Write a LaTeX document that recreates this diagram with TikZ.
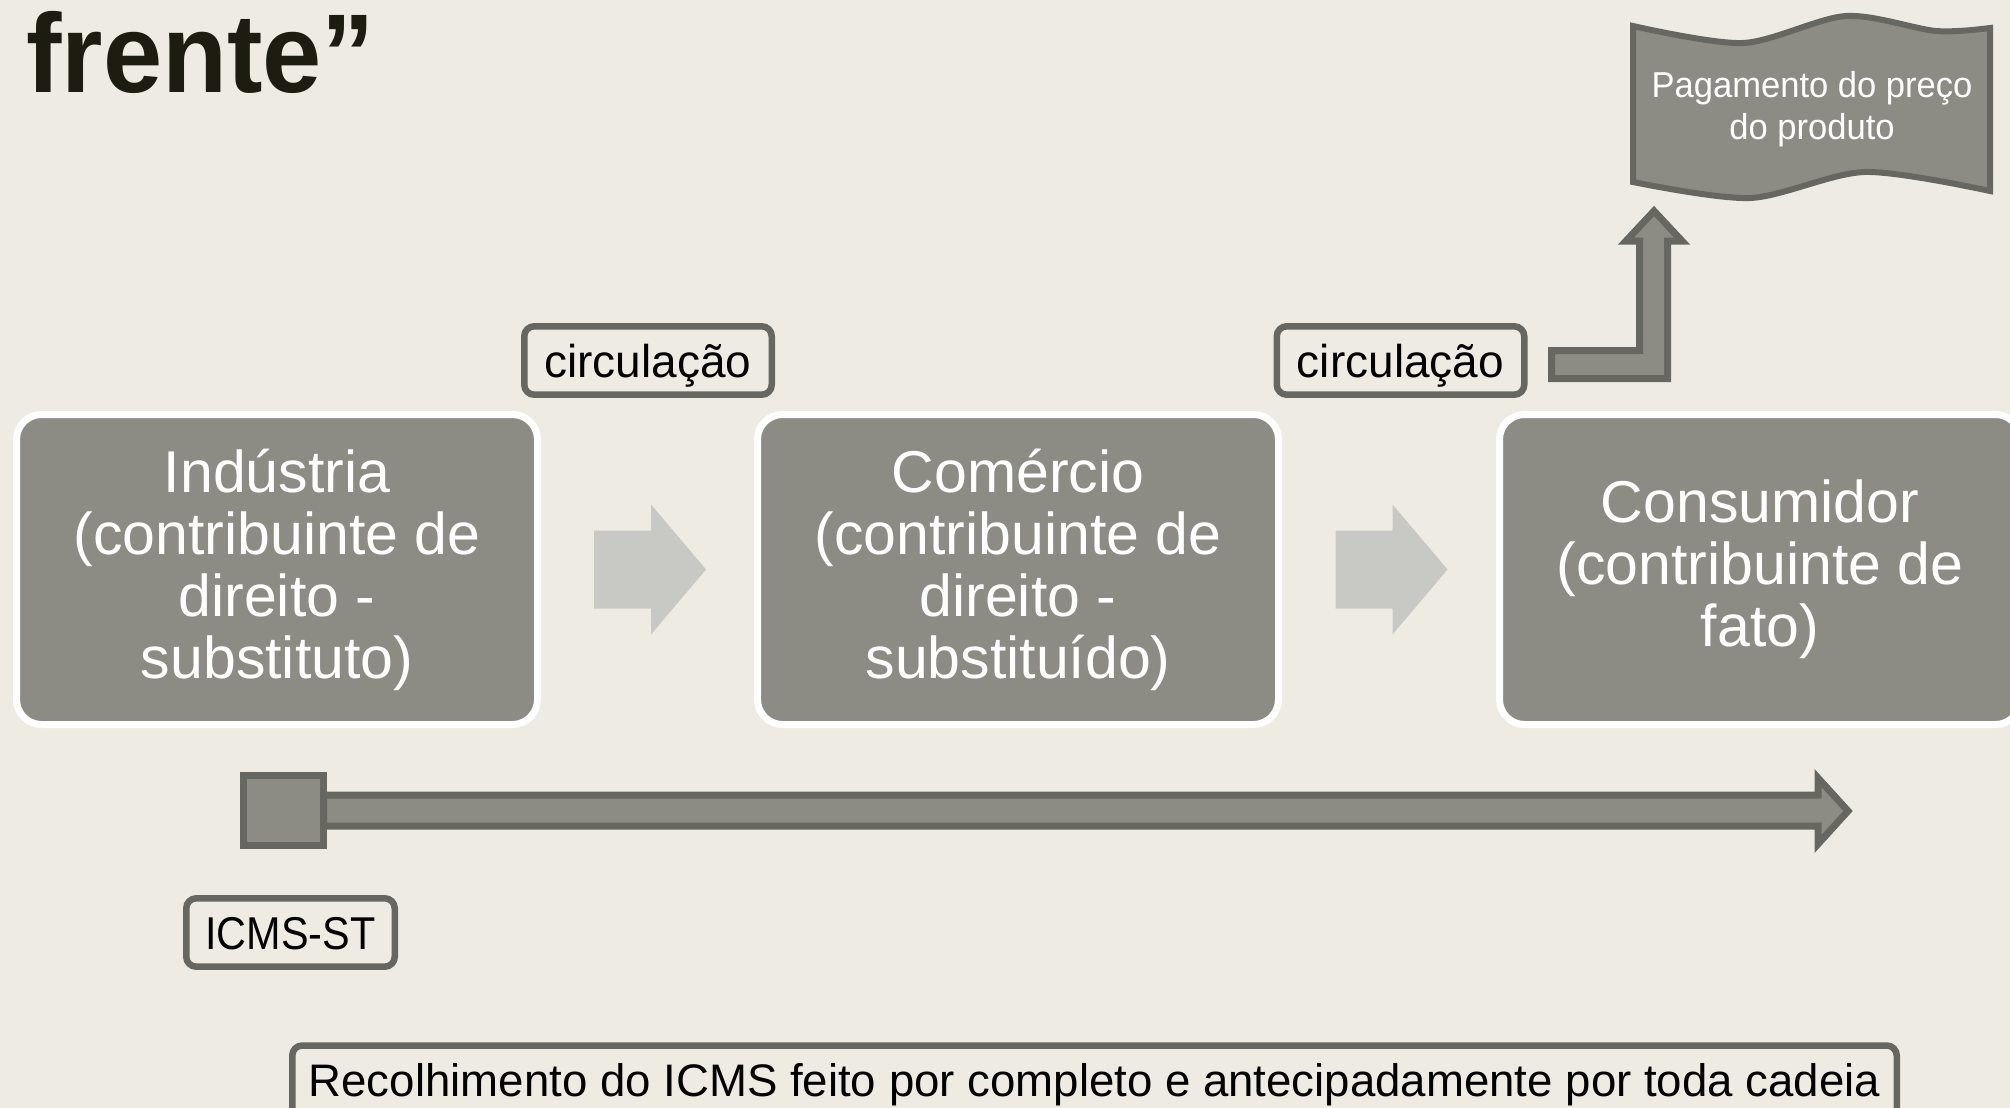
\documentclass[tikz,border=0pt]{standalone}
\usepackage{fontspec}
\setmainfont{Liberation Sans}
\newfontfamily\titlefont{Liberation Sans}[FakeStretch=0.95]
\newfontfamily\narrowfont{Liberation Sans}[FakeStretch=0.9]
\newfontfamily\flagfont{Liberation Sans}[FakeStretch=0.96]
\usetikzlibrary{calc}
\definecolor{bgc}{RGB}{238,235,227}
\definecolor{boxfill}{RGB}{140,140,133}
\definecolor{edgec}{RGB}{102,103,96}
\definecolor{lightc}{RGB}{200,200,196}
\definecolor{titlec}{RGB}{28,28,16}
\begin{document}
\begin{tikzpicture}[x=0.5pt,y=-0.5pt,
  actor/.style={draw=white, line width=3.5pt, fill=boxfill, rounded corners=12.5pt,
    minimum width=260.5pt, minimum height=155pt, inner sep=0pt, text=white, align=center,
    font=\fontsize{29.5}{31}\selectfont},
  tag/.style={draw=edgec, line width=3.25pt, rounded corners=5pt, fill=bgc, text=black,
    inner xsep=4pt, inner ysep=8.1pt, text height=17.25pt, text depth=0.75pt,
    font=\fontsize{23}{26}\selectfont},
  fat/.style={draw=edgec, fill=boxfill, line width=3.5pt, line join=miter},
  chev/.style={fill=lightc}
]
\useasboundingbox (0,0) rectangle (2010,1108);
\clip (0,0) rectangle (2010,1108);
\fill[bgc] (0,0) rectangle (2010,1108);

% title
\node[anchor=base west, inner sep=0pt, text=titlec,
  font=\titlefont\bfseries\fontsize{56}{60}\selectfont] (title) at (26,92) {frente”};

% actors
\node[actor] (ind) at (277,569.5) {Indústria\\(contribuinte de\\direito -\\substituto)};
\node[actor] (com) at (1018,569.5) {Comércio\\(contribuinte de\\direito -\\substituído)};
\node[actor] (con) at (1760,569.5) {\raisebox{-2pt}{\parbox{250pt}{\centering Consumidor\\(contribuinte de\\fato)}}};

% chevrons
\coordinate (m1) at ($(ind.east)!0.5!(com.west)$);
\coordinate (m2) at ($(com.east)!0.5!(con.west)$);
\foreach \m in {m1,m2}{
  \fill[chev] ($(\m)+(-53.5,-39)$) -- ($(\m)+(3.5,-39)$) -- ($(\m)+(3.5,-65)$)
    -- ($(\m)+(58.5,0)$) -- ($(\m)+(3.5,65)$) -- ($(\m)+(3.5,39)$)
    -- ($(\m)+(-53.5,39)$) -- cycle;
}

% tags
\node[tag, minimum width=123.75pt] (c1) at (648,360.5) {circulação};
\node[tag, minimum width=123.75pt] (c2) at (1400.5,360.5) {circulação};
\node[tag, minimum width=104.25pt, font=\narrowfont\fontsize{23}{26}\selectfont] (icms) at (290.5,932.5) {ICMS-ST};
\node[tag, minimum width=802.25pt, text depth=30pt, anchor=north,
  font=\fontsize{22.8}{26}\selectfont] (rec) at (1094.5,1042.25)
  {Recolhimento do ICMS feito por completo e antecipadamente por toda cadeia};

% flag
\draw[fat, line width=3pt] plot[smooth] coordinates {(1633,26) (1743,43) (1846,16) (1936,31) (1990,28)}
  -- plot[smooth] coordinates {(1990,191) (1865,172) (1750,198) (1633,182)} -- cycle;
\node[text=white, align=center, inner sep=0pt, font=\flagfont\fontsize{18}{21}\selectfont] (pay)
  at (1812,109.5) {Pagamento do preço\\do produto};

% bent arrow
\draw[fat] (1551.5,350.5) -- (1639.5,350.5) -- (1639.5,241) -- (1626,241) -- (1654,211)
  -- (1682,241) -- (1667.5,241) -- (1667.5,378.5) -- (1551.5,378.5) -- cycle;

% long arrow
\node[fat, minimum width=40pt, minimum height=35pt, inner sep=0pt, outer sep=0pt] (sq) at (283.5,810.5) {};
\draw[fat] ($(sq.east)+(0,-15.5)$) -- (1818,795) -- (1818,778) -- (1848,811) -- (1818,844)
  -- (1818,826) -- ($(sq.east)+(0,15.5)$) -- cycle;
\end{tikzpicture}
\end{document}
